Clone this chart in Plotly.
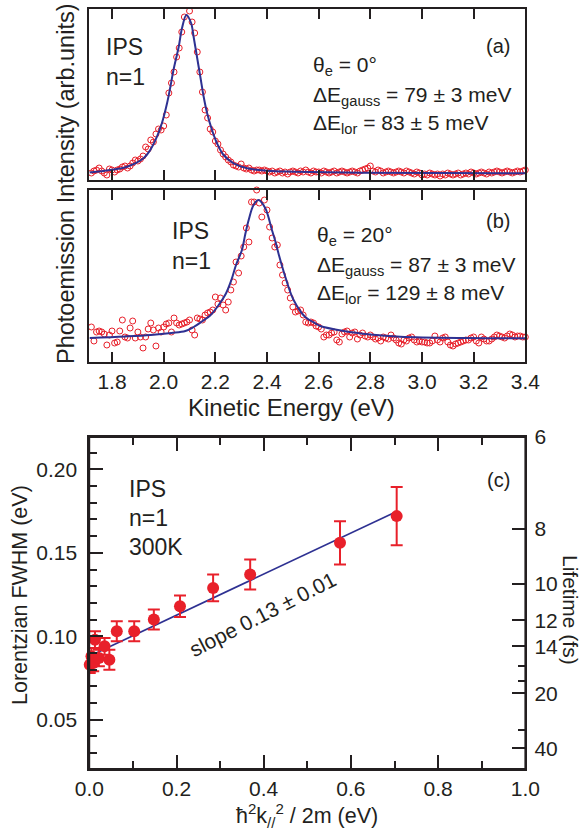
import plotly.graph_objects as go

# ---------------- data ----------------
energy = [
    1.71, 1.72, 1.73, 1.74, 1.75, 1.76, 1.77, 1.78, 1.79, 1.80,
    1.81, 1.82, 1.83, 1.84, 1.85, 1.86, 1.87, 1.88, 1.89, 1.90,
    1.91, 1.92, 1.93, 1.94, 1.95, 1.96, 1.97, 1.98, 1.99, 2.00,
    2.01, 2.02, 2.03, 2.04, 2.05, 2.06, 2.07, 2.08, 2.09, 2.10,
    2.11, 2.12, 2.13, 2.14, 2.15, 2.16, 2.17, 2.18, 2.19, 2.20,
    2.21, 2.22, 2.23, 2.24, 2.25, 2.26, 2.27, 2.28, 2.29, 2.30,
    2.31, 2.32, 2.33, 2.34, 2.35, 2.36, 2.37, 2.38, 2.39, 2.40,
    2.41, 2.42, 2.43, 2.44, 2.45, 2.46, 2.47, 2.48, 2.49, 2.50,
    2.51, 2.52, 2.53, 2.54, 2.55, 2.56, 2.57, 2.58, 2.59, 2.60,
    2.61, 2.62, 2.63, 2.64, 2.65, 2.66, 2.67, 2.68, 2.69, 2.70,
    2.71, 2.72, 2.73, 2.74, 2.75, 2.76, 2.77, 2.78, 2.79, 2.80,
    2.81, 2.82, 2.83, 2.84, 2.85, 2.86, 2.87, 2.88, 2.89, 2.90,
    2.91, 2.92, 2.93, 2.94, 2.95, 2.96, 2.97, 2.98, 2.99, 3.00,
    3.01, 3.02, 3.03, 3.04, 3.05, 3.06, 3.07, 3.08, 3.09, 3.10,
    3.11, 3.12, 3.13, 3.14, 3.15, 3.16, 3.17, 3.18, 3.19, 3.20,
    3.21, 3.22, 3.23, 3.24, 3.25, 3.26, 3.27, 3.28, 3.29, 3.30,
    3.31, 3.32, 3.33, 3.34, 3.35, 3.36, 3.37, 3.38, 3.39, 3.40,
]

# panel (a): theta_e = 0 deg (arb. units)
intensity_a = [
    1, 7, 9, 10, 12, 9, 7, 5, 11, 10,
    8, 10, 11, 13, 14, 12, 14, 17, 20, 19,
    21, 24, 33, 31, 40, 38, 46, 51, 50, 54,
    65, 87, 97, 108, 123, 132, 148, 163, 172, 169,
    158, 147, 128, 108, 88, 70, 62, 51, 48, 39,
    36, 30, 26, 23, 20, 18, 15, 14, 13, 16,
    12, 11, 12, 10, 9, 10, 10, 9, 10, 9,
    8, 9, 7, 8, 9, 7, 8, 6, 8, 9,
    8, 7, 9, 8, 10, 8, 7, 9, 8, 8,
    7, 9, 8, 7, 8, 9, 7, 8, 9, 8,
    7, 8, 9, 8, 7, 9, 10, 11, 12, 14,
    9, 8, 10, 9, 7, 8, 9, 8, 7, 8,
    9, 8, 7, 9, 8, 7, 6, 8, 7, 5,
    6, 5, 7, 6, 5, 6, 4, 6, 5, 7,
    6, 5, 6, 7, 5, 6, 7, 6, 8, 7,
    6, 7, 8, 7, 6, 8, 7, 8, 9, 8,
    7, 8, 9, 8, 7, 8, 9, 8, 9, 10,
]

# panel (b): theta_e = 20 deg (arb. units)
intensity_b = [
    0, 35, 21, 30, 31, 30, 28, 17, 27, 31,
    19, 20, 31, 42, 25, 24, 34, 41, 24, 30,
    25, 14, 25, 33, 39, 32, 16, 34, 30, 35,
    38, 39, 30, 44, 39, 37, 38, 39, 40, 42,
    32, 27, 44, 43, 42, 47, 49, 50, 52, 65,
    58, 64, 57, 52, 60, 72, 80, 100, 89, 106,
    115, 134, 120, 160, 160, 172, 159, 145, 162, 152,
    135, 124, 115, 117, 97, 87, 79, 72, 64, 55,
    50, 51, 52, 47, 40, 39, 40, 39, 36, 35,
    33, 25, 27, 27, 29, 30, 22, 20, 28, 30,
    31, 25, 29, 30, 23, 27, 29, 26, 25, 27,
    25, 23, 24, 21, 25, 24, 23, 27, 24, 22,
    19, 18, 22, 21, 24, 25, 22, 20, 21, 20,
    20, 19, 19, 21, 26, 22, 20, 24, 25, 20,
    17, 16, 18, 19, 20, 21, 22, 22, 24, 25,
    21, 19, 25, 23, 21, 21, 23, 25, 27, 26,
    25, 24, 26, 28, 27, 25, 26, 26, 25, 25,
]

# fitted Voigt curves
fit_a_energy = [1.713, 1.793, 1.858, 1.922, 1.948, 1.974, 1.993, 2.013, 2.026, 2.038,
                2.058, 2.071, 2.088, 2.106, 2.116, 2.129, 2.142, 2.155, 2.168, 2.187,
                2.206, 2.232, 2.271, 2.323, 2.400, 2.503, 2.761, 3.400]
fit_a_intensity = [7.5, 10, 13.3, 21.7, 30, 43.3, 56.7, 76.7, 93.3, 110,
                   133, 152, 165, 157, 143, 123, 103, 83, 67, 50,
                   37, 25, 16.7, 11.7, 9.3, 8.3, 7.3, 6.7]

fit_b_energy = [1.713, 1.85, 1.95, 2.03, 2.084, 2.116, 2.148, 2.180, 2.213, 2.240,
                2.262, 2.280, 2.303, 2.316, 2.329, 2.348, 2.367, 2.393, 2.419, 2.432,
                2.445, 2.471, 2.503, 2.548, 2.587, 2.606, 2.697, 2.80, 2.916, 3.175, 3.400]
fit_b_intensity = [24, 25.5, 27, 29, 31, 35, 40.5, 46.5, 57, 68,
                   82, 97, 112, 128, 142, 157, 162, 154, 132, 121,
                   108, 85, 62, 45, 38.7, 36, 31, 27.5, 25.3, 24, 23.7]

# panel (c): Lorentzian FWHM vs parallel kinetic energy
k_energy = [0.001, 0.005, 0.009, 0.013, 0.022, 0.035, 0.046, 0.063, 0.103, 0.148,
            0.208, 0.284, 0.369, 0.575, 0.705]
lor_fwhm = [0.083, 0.088, 0.084, 0.098, 0.087, 0.094, 0.086, 0.103, 0.103, 0.110,
            0.118, 0.129, 0.137, 0.156, 0.172]
lor_err = [0.005, 0.005, 0.005, 0.005, 0.005, 0.005, 0.006, 0.006, 0.006, 0.006,
           0.0065, 0.008, 0.009, 0.013, 0.0175]
fit_c_x = [0.0, 0.705]
fit_c_y = [0.088, 0.1748]

lifetime_labels = [6, 8, 10, 12, 14, 20, 40]
lifetime_minor = [16, 18, 30]
TWO_HBAR = 1.316  # eV fs, lifetime = 2*hbar / FWHM

# ---------------- styling ----------------
W, H = 582, 832
FONT = "Liberation Sans, Arial, sans-serif"
RED = "#e8202a"
BLUE = "#2e3192"
BLACK = "#231f20"


def px(x):
    return x / W


def py(y):
    return 1 - y / H


XD = [px(89.3), px(525.3)]
C_RANGE = [0.0205, 0.2194]

fig = go.Figure()

# (a)
fig.add_trace(go.Scatter(x=energy, y=intensity_a, mode="markers", xaxis="x", yaxis="y",
                         marker=dict(symbol="circle-open", size=6, color=RED, line=dict(width=1)),
                         cliponaxis=False, showlegend=False, hoverinfo="skip"))
fig.add_trace(go.Scatter(x=fit_a_energy, y=fit_a_intensity, mode="lines", xaxis="x", yaxis="y",
                         line=dict(color=BLUE, width=2, shape="spline"), showlegend=False))
# (b)
fig.add_trace(go.Scatter(x=energy, y=intensity_b, mode="markers", xaxis="x2", yaxis="y2",
                         marker=dict(symbol="circle-open", size=6, color=RED, line=dict(width=1)),
                         cliponaxis=False, showlegend=False, hoverinfo="skip"))
fig.add_trace(go.Scatter(x=fit_b_energy, y=fit_b_intensity, mode="lines", xaxis="x2", yaxis="y2",
                         line=dict(color=BLUE, width=2, shape="spline"), showlegend=False))
# (c)
fig.add_trace(go.Scatter(x=fit_c_x, y=fit_c_y, mode="lines", xaxis="x3", yaxis="y3",
                         line=dict(color=BLUE, width=1.6), showlegend=False))
fig.add_trace(go.Scatter(x=k_energy, y=lor_fwhm, mode="markers", xaxis="x3", yaxis="y3",
                         marker=dict(size=12, color=RED),
                         error_y=dict(type="data", array=lor_err, color=RED, thickness=2, width=6),
                         cliponaxis=False, showlegend=False))
# helpers so the right (lifetime) and top axes of (c) get drawn
fig.add_trace(go.Scatter(x=[0.5], y=[0.1], mode="markers", xaxis="x3", yaxis="y4",
                         marker=dict(opacity=0), showlegend=False, hoverinfo="skip"))
fig.add_trace(go.Scatter(x=[0.5], y=[0.1], mode="markers", xaxis="x4", yaxis="y3",
                         marker=dict(opacity=0), showlegend=False, hoverinfo="skip"))

tick_style = dict(ticks="inside", tickwidth=1.5, tickcolor=BLACK)
common_x = dict(showgrid=False, zeroline=False, showline=True, linewidth=1.8, linecolor=BLACK,
                mirror="ticks", tickfont=dict(family=FONT, size=21, color=BLACK), **tick_style)
common_y = dict(showgrid=False, zeroline=False, showline=True, linewidth=1.8, linecolor=BLACK)
c_xticks = dict(range=[0, 1], dtick=0.2, tick0=0, ticklen=14,
                minor=dict(dtick=0.1, tick0=0, ticklen=8, **tick_style), **tick_style)

spec_range = [1.712, 3.4]
fig.update_layout(
    width=W, height=H, margin=dict(l=0, r=0, t=0, b=0, autoexpand=False),
    paper_bgcolor="white", plot_bgcolor="white",
    font=dict(family=FONT, color=BLACK),
    xaxis=dict(domain=XD, anchor="y", range=spec_range, dtick=0.2, tick0=0, ticklen=10,
               showticklabels=False, **common_x),
    yaxis=dict(domain=[py(180), py(9.3)], anchor="x", range=[0, 170.7], showticklabels=False,
               ticks="", mirror=True, **common_y),
    xaxis2=dict(domain=XD, anchor="y2", range=spec_range, dtick=0.2, tick0=0, ticklen=10,
                tickformat=".1f", showticklabels=True, **common_x),
    yaxis2=dict(domain=[py(362), py(190)], anchor="x2", range=[0, 172], showticklabels=False,
                ticks="", mirror=True, **common_y),
    xaxis3=dict(domain=XD, anchor="y3", tickformat=".1f", side="bottom",
                tickfont=dict(family=FONT, size=21, color=BLACK),
                showgrid=False, zeroline=False, showline=True, linewidth=1.8, linecolor=BLACK,
                **c_xticks),
    xaxis4=dict(overlaying="x3", anchor="y3", side="top", showticklabels=False,
                showgrid=False, zeroline=False, showline=True, linewidth=1.8, linecolor=BLACK,
                **c_xticks),
    yaxis3=dict(domain=[py(769), py(437)], anchor="x3", range=C_RANGE, dtick=0.05, tick0=0,
                tickformat=".2f", ticklen=14, ticklabelstandoff=6,
                tickfont=dict(family=FONT, size=21, color=BLACK),
                minor=dict(dtick=0.01, tick0=0, ticklen=8, **tick_style),
                mirror=False, **tick_style, **common_y),
    yaxis4=dict(overlaying="y3", side="right", anchor="x3", range=C_RANGE,
                tickmode="array", tickvals=[TWO_HBAR / t for t in lifetime_labels],
                ticktext=[str(t) for t in lifetime_labels],
                ticklen=13, ticklabelstandoff=3, tickfont=dict(family=FONT, size=21, color=BLACK),
                minor=dict(tickmode="array", tickvals=[TWO_HBAR / t for t in lifetime_minor],
                           ticklen=7, **tick_style),
                **tick_style, **common_y),
    shapes=[dict(type="rect", xref="x3 domain", yref="y3 domain", x0=0, x1=1, y0=0, y1=1,
                 line=dict(color=BLACK, width=1.8), fillcolor="rgba(0,0,0,0)", layer="above")],
)

ann = []


def text(x, y, s, size=21, xanchor="left", angle=0):
    ann.append(dict(x=px(x), y=py(y), xref="paper", yref="paper", text=s, showarrow=False,
                    xanchor=xanchor, yanchor="middle", textangle=angle,
                    font=dict(family=FONT, size=size, color=BLACK)))


# panel (a)
text(104, 47, "IPS", 23)
text(104, 77, "n=1", 23)
text(498, 46, "(a)", 20, "center")
text(311, 66, "θ<sub>e</sub> = 0°")
text(311, 96, "ΔE<sub>gauss</sub> = 79 ± 3 meV")
text(311, 124, "ΔE<sub>lor</sub> = 83 ± 5 meV")
# panel (b)
text(170, 231, "IPS", 23)
text(170, 261, "n=1", 23)
text(498, 221, "(b)", 20, "center")
text(315, 236, "θ<sub>e</sub> = 20°")
text(315, 266, "ΔE<sub>gauss</sub> = 87 ± 3 meV")
text(315, 294, "ΔE<sub>lor</sub> = 129 ± 8 meV")
# panel (c)
text(127, 489, "IPS", 23)
text(127, 518, "n=1", 23)
text(127, 547, "300K", 23)
text(498, 480, "(c)", 20, "center")
text(262, 614, "slope 0.13 ± 0.01", 21, "center", -27)
# axis titles
text(66, 184, "Photoemission Intensity (arb.units)", 23.5, "center", -90)
text(291, 407, "Kinetic Energy (eV)", 24, "center")
text(20, 595, "Lorentzian FWHM (eV)", 21.5, "center", -90)
text(571, 610, "Lifetime (fs)", 21, "center", 90)
text(307, 815, "ħ<sup>2</sup>k<sub>//</sub><sup>2</sup> / 2m (eV)", 21.5, "center")

fig.update_layout(annotations=ann)
fig.write_html("out.html")
